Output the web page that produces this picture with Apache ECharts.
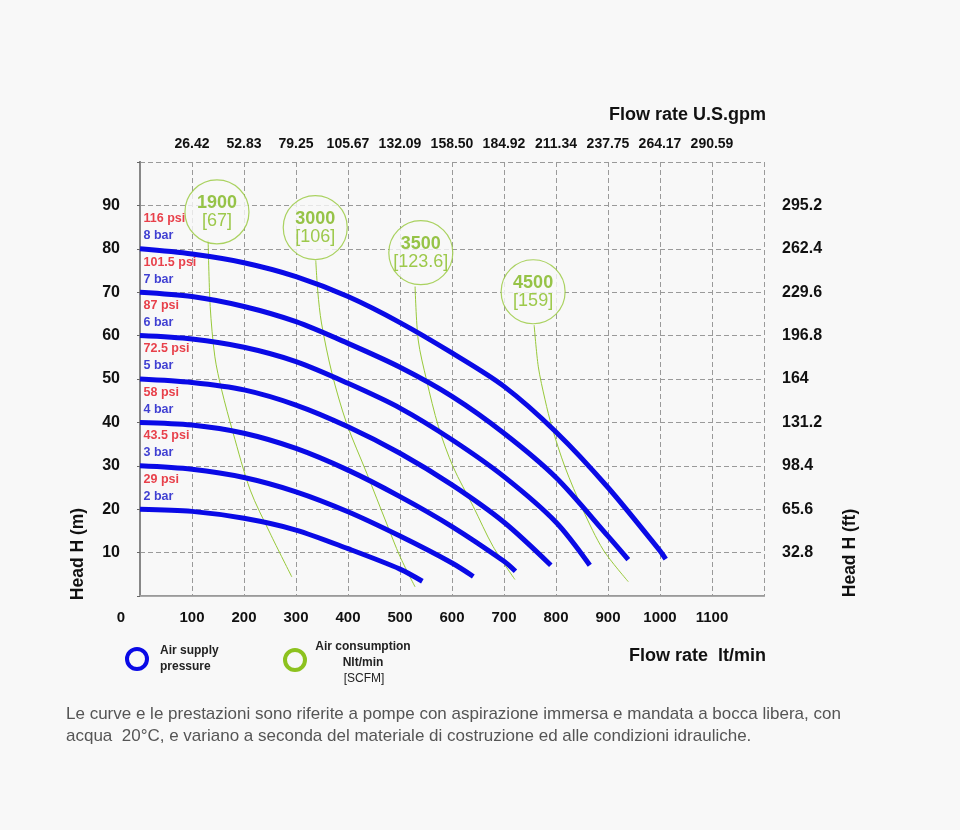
<!DOCTYPE html>
<html><head><meta charset="utf-8">
<script src="https://cdn.jsdelivr.net/npm/echarts@6/dist/echarts.min.js"></script>
<style>html,body{margin:0;padding:0;background:#f8f8f8}#c{width:960px;height:830px}</style>
</head><body><div id="c"></div>
<script>
// ---- data ----
const pressureBar = [2, 3, 4, 5, 6, 7, 8];
const pressurePsi = ['29', '43.5', '58', '72.5', '87', '101.5', '116'];
const curve2 = [[0,20],[100,19.5],[200,17.9],[300,15.2],[400,10.9],[500,6.2],[543,3.4]];
const curve3 = [[0,30],[100,29.2],[200,27.3],[300,24],[400,19.4],[500,13.8],[600,7.6],[641,4.5]];
const curve4 = [[0,40],[100,39.4],[200,37.5],[300,34],[400,29],[500,22.9],[600,16],[700,8],[722,5.7]];
const curve5 = [[0,50],[100,49.2],[200,47.5],[300,44],[400,39],[500,32.9],[600,25.6],[700,17],[790,7.1]];
const curve6 = [[0,60],[100,59.2],[200,57.3],[300,54],[400,49],[500,43.3],[600,36],[700,27.5],[800,17],[865,7.1]];
const curve7 = [[0,70],[100,69],[200,66.7],[300,63.2],[400,58.2],[500,52.7],[600,46],[700,37.5],[800,27.3],[900,13.8],[939,8.4]];
const curve8 = [[0,80],[100,78.8],[200,76.8],[300,73.6],[400,69],[500,63],[600,56],[700,48.3],[800,37.8],[900,25],[1000,10.4],[1011,8.5]];

const airNlt = ['1900', '3000', '3500', '4500'];
const airScfm = ['67', '106', '123.6', '159'];
const airLabelPos = [[148,88.5],[337,84.9],[540,79.1],[756,70.1]];
const air1900 = [[131,82],[135,66.7],[144,55.1],[157,47.5],[179,37.6],[212,24.4],[250,14.5],[292,4.4]];
const air3000 = [[338,77.3],[342,70],[349,62.9],[369,51.4],[397,39.9],[436,28.3],[474,16.8],[500,9.1],[529,2.1]];
const air3500 = [[529,71.3],[535,59],[551,49.8],[574,39],[602,29.8],[641,20.6],[679,11.4],[721,3.8]];
const air4500 = [[758,62.4],[766,52.8],[779,45.2],[792,39],[817,29.8],[852,19.8],[891,10.6],[939,3.3]];

const gpmLabels = ['26.42','52.83','79.25','105.67','132.09','158.50','184.92','211.34','237.75','264.17','290.59'];
const ftLabels = ['32.8','65.6','98.4','131.2','164','196.8','229.6','262.4','295.2'];

const footer1 = 'Le curve e le prestazioni sono riferite a pompe con aspirazione immersa e mandata a bocca libera, con';
const footer2 = 'acqua  20°C, e variano a seconda del materiale di costruzione ed alle condizioni idrauliche.';

// ---- chart ----
const FONT = "'Liberation Sans', Arial, sans-serif";
const BG = '#f8f8f8';
const BLUE = '#0a0ae6';
const GREEN = '#8dc21f';
const pumpCurves = [curve2, curve3, curve4, curve5, curve6, curve7, curve8];
const airCurves = [air1900, air3000, air3500, air4500];

const chart = echarts.init(document.getElementById('c'), null, {renderer: 'canvas'});

const series = [];
airCurves.forEach(c => series.push({
  type: 'line', data: c, smooth: 0.3, showSymbol: false, silent: true, z: 2,
  lineStyle: {color: '#98c93a', width: 1}
}));
series.push({
  type: 'scatter', data: airLabelPos, symbolSize: 64, silent: true, z: 3,
  itemStyle: {color: BG, borderColor: '#96c83a', borderWidth: 1.2},
  label: {
    show: true, position: 'inside',
    formatter: p => `{a|${airNlt[p.dataIndex]}}\n{b|[${airScfm[p.dataIndex]}]}`,
    rich: {
      a: {fontFamily: FONT, fontSize: 18, fontWeight: 'bold', color: '#7db51a', lineHeight: 18},
      b: {fontFamily: FONT, fontSize: 18, color: '#86bd1f', lineHeight: 18}
    }
  }
});
pumpCurves.forEach(c => series.push({
  type: 'line', data: c, smooth: 0.3, showSymbol: false, silent: true, z: 4,
  lineStyle: {color: BLUE, width: 5}
}));
series.push({
  type: 'scatter', data: pumpCurves.map(c => c[0]), symbolSize: 1, silent: true, z: 5,
  itemStyle: {color: 'rgba(0,0,0,0)'},
  label: {
    show: true, position: [4, -38], align: 'left', verticalAlign: 'top',
    formatter: p => `{r|${pressurePsi[p.dataIndex]} psi}\n{b|${pressureBar[p.dataIndex]} bar}`,
    rich: {
      r: {fontFamily: FONT, fontSize: 12.5, fontWeight: 'bold', color: '#e3121e', lineHeight: 17},
      b: {fontFamily: FONT, fontSize: 12.5, fontWeight: 'bold', color: '#1010c8', lineHeight: 17}
    }
  }
});

const dash = {show: true, lineStyle: {color: '#9a9a9a', width: 1, type: [5, 3]}};

chart.setOption({
  animation: false,
  backgroundColor: BG,
  grid: {left: 140, right: 196, top: 162, bottom: 234},
  xAxis: [
    {
      type: 'value', position: 'bottom', min: 0, max: 1200, interval: 100,
      axisLine: {show: true, lineStyle: {color: '#9a9a9a', width: 2}},
      axisTick: {show: false},
      splitLine: dash,
      axisLabel: {
        margin: 14, color: '#111', fontFamily: FONT, fontSize: 15, fontWeight: 'bold',
        formatter: v => v === 0 ? '{z|0}' : (v >= 1200 ? '' : String(v)),
        rich: {z: {fontFamily: FONT, fontSize: 15, fontWeight: 'bold', color: '#111', padding: [0, 38, 0, 0]}}
      }
    },
    {
      type: 'value', position: 'top', min: 0, max: 1200, interval: 100,
      axisLine: {show: true, lineStyle: {color: '#aaaaaa', width: 1}},
      axisTick: {show: false}, splitLine: {show: false},
      axisLabel: {
        margin: 11, color: '#111', fontFamily: FONT, fontSize: 14, fontWeight: 'bold',
        formatter: v => (v > 0 && v < 1200) ? gpmLabels[v / 100 - 1] : ''
      }
    }
  ],
  yAxis: [
    {
      type: 'value', position: 'left', min: 0, max: 100, interval: 10,
      axisLine: {show: true, lineStyle: {color: '#888', width: 2}},
      axisTick: {show: false},
      splitLine: dash,
      axisLabel: {
        margin: 20, color: '#111', fontFamily: FONT, fontSize: 16, fontWeight: 'bold',
        formatter: v => (v > 0 && v < 100) ? String(v) : ''
      }
    },
    {
      type: 'value', position: 'right', min: 0, max: 100, interval: 10,
      axisLine: {show: true, lineStyle: {color: '#888', width: 2}},
      axisTick: {show: true, inside: true, length: 3, lineStyle: {color: '#666'}},
      splitLine: {show: false},
      axisLabel: {
        margin: 18, color: '#111', fontFamily: FONT, fontSize: 16, fontWeight: 'bold',
        formatter: v => (v > 0 && v < 100) ? ftLabels[v / 10 - 1] : ''
      }
    }
  ],
  graphic: [
    {type: 'text', x: 766, y: 115, style: {text: 'Flow rate U.S.gpm', font: `bold 18px ${FONT}`, fill: '#111', textAlign: 'right', textVerticalAlign: 'middle'}},
    {type: 'text', x: 766, y: 656, style: {text: 'Flow rate  lt/min', font: `bold 18px ${FONT}`, fill: '#111', textAlign: 'right', textVerticalAlign: 'middle'}},
    {type: 'text', x: 78, y: 554, rotation: Math.PI / 2, style: {text: 'Head H (m)', font: `bold 17.5px ${FONT}`, fill: '#111', textAlign: 'center', textVerticalAlign: 'middle'}},
    {type: 'text', x: 850, y: 553, rotation: Math.PI / 2, style: {text: 'Head H (ft)', font: `bold 17.5px ${FONT}`, fill: '#111', textAlign: 'center', textVerticalAlign: 'middle'}},
    {type: 'circle', shape: {cx: 137, cy: 659, r: 10}, style: {fill: 'none', stroke: BLUE, lineWidth: 4}},
    {type: 'text', x: 160, y: 651, style: {text: 'Air supply', font: `bold 12px ${FONT}`, fill: '#222', textVerticalAlign: 'middle'}},
    {type: 'text', x: 160, y: 667, style: {text: 'pressure', font: `bold 12px ${FONT}`, fill: '#222', textVerticalAlign: 'middle'}},
    {type: 'circle', shape: {cx: 295, cy: 660, r: 10}, style: {fill: 'none', stroke: GREEN, lineWidth: 4}},
    {type: 'text', x: 363, y: 647, style: {text: 'Air consumption', font: `bold 12px ${FONT}`, fill: '#222', textAlign: 'center', textVerticalAlign: 'middle'}},
    {type: 'text', x: 363, y: 663, style: {text: 'Nlt/min', font: `bold 12px ${FONT}`, fill: '#222', textAlign: 'center', textVerticalAlign: 'middle'}},
    {type: 'text', x: 364, y: 679, style: {text: '[SCFM]', font: `12px ${FONT}`, fill: '#222', textAlign: 'center', textVerticalAlign: 'middle'}},
    {type: 'text', x: 66, y: 714, style: {text: footer1, font: `17px ${FONT}`, fill: '#555', textVerticalAlign: 'middle'}},
    {type: 'text', x: 66, y: 736, style: {text: footer2, font: `17px ${FONT}`, fill: '#555', textVerticalAlign: 'middle'}}
  ],
  series: series
});
</script>
</body></html>
